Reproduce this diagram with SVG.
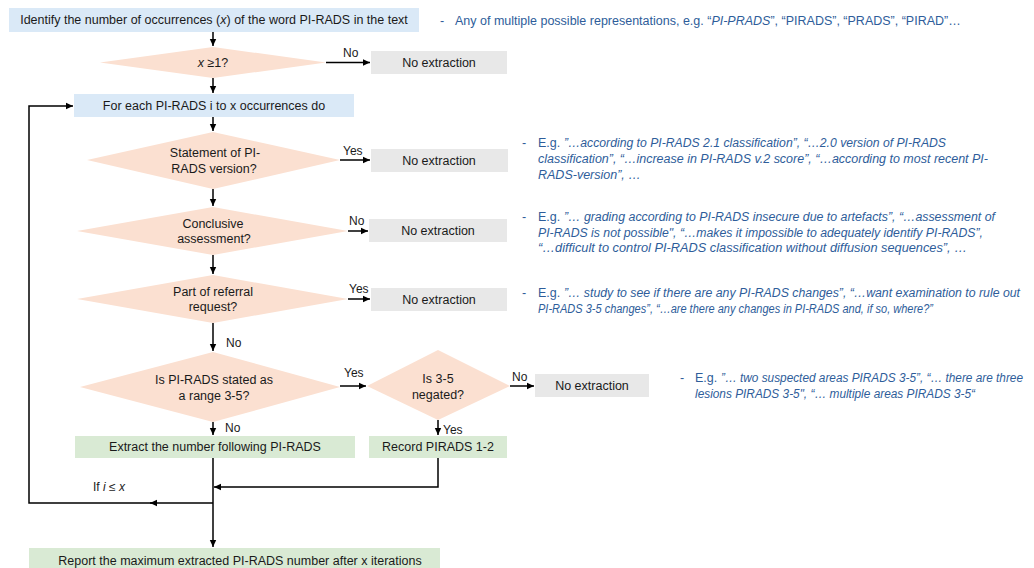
<svg xmlns="http://www.w3.org/2000/svg" width="1034" height="568" viewBox="0 0 1034 568">
<defs>
<marker id="ah" markerUnits="userSpaceOnUse" markerWidth="8" markerHeight="8" refX="7" refY="4" orient="auto">
<path d="M0,0.8 L7,4 L0,7.2 Z" fill="#000"/>
</marker>
<style>
.t{font-family:"Liberation Sans",Arial,sans-serif;font-size:12.5px;fill:#1a1a1a;text-anchor:middle}
.l{font-family:"Liberation Sans",Arial,sans-serif;font-size:12px;fill:#1a1a1a}
.a{font-family:"Liberation Sans",Arial,sans-serif;font-size:12.5px;fill:#2e5d9a}
.s{font-size:12px}
.i{font-style:italic}
.blue{fill:#dae9f7}
.dia{fill:#fbe0d1}
.gray{fill:#e8e8e8}
.green{fill:#d9ead4}
.c{fill:none;stroke:#000;stroke-width:1.5}
</style>
</defs>
<rect width="1034" height="568" fill="#fff"/>

<g id="start"><rect class="blue" x="9" y="8" width="410" height="24"/><text class="t" x="214" y="24">Identify the number of occurrences (<tspan class="i">x</tspan>) of the word PI-RADS in the text</text></g>
<g id="d1"><polygon class="dia" points="100,62.5 213,47 326,62.5 213,78"/><text class="t" x="213" y="67"><tspan class="i">x</tspan> ≥1?</text></g>
<g id="ne1"><rect class="gray" x="371" y="51" width="136" height="23"/><text class="t" x="439" y="67">No extraction</text></g>
<g id="loop"><rect class="blue" x="74" y="94" width="280" height="23"/><text class="t" x="214" y="110">For each PI-RADS i to x occurrences do</text></g>
<g id="d2"><polygon class="dia" points="87,160 213,132 340,160 213,189"/><text class="t" x="215" y="157">Statement of PI-</text><text class="t" x="214" y="173">RADS version?</text></g>
<g id="ne2"><rect class="gray" x="371" y="149" width="137" height="23"/><text class="t" x="439" y="165">No extraction</text></g>
<g id="d3"><polygon class="dia" points="77,231 213,207 348,231 213,255"/><text class="t" x="213" y="228">Conclusive</text><text class="t" x="214" y="243">assessment?</text></g>
<g id="ne3"><rect class="gray" x="369" y="219" width="138" height="23"/><text class="t" x="438" y="235">No extraction</text></g>
<g id="d4"><polygon class="dia" points="77,299 213,275 348,299 213,323"/><text class="t" x="213" y="296">Part of referral</text><text class="t" x="213" y="311">request?</text></g>
<g id="ne4"><rect class="gray" x="371" y="288" width="136" height="23"/><text class="t" x="439" y="304">No extraction</text></g>
<g id="d5"><polygon class="dia" points="80,387 213,352 340,387 213,422"/><text class="t" x="214" y="384">Is PI-RADS stated as</text><text class="t" x="214" y="400">a range 3-5?</text></g>
<g id="d6"><polygon class="dia" points="367,386 438,350 510,386 438,420"/><text class="t" x="438" y="383">Is 3-5</text><text class="t" x="438" y="399">negated?</text></g>
<g id="ne5"><rect class="gray" x="535" y="374" width="114" height="23"/><text class="t" x="592" y="390">No extraction</text></g>
<g id="extract"><rect class="green" x="75" y="436" width="280" height="22"/><text class="t" x="215" y="451">Extract the number following PI-RADS</text></g>
<g id="record"><rect class="green" x="369" y="436" width="138" height="22"/><text class="t" x="438" y="451">Record PIRADS 1-2</text></g>
<g id="report"><rect class="green" x="29" y="548" width="411" height="20"/><text class="t" x="240" y="565">Report the maximum extracted PI-RADS number after x iterations</text></g>

<g id="connectors">
<line class="c" x1="213" y1="32" x2="213" y2="46" marker-end="url(#ah)"/>
<line class="c" x1="213" y1="78" x2="213" y2="93" marker-end="url(#ah)"/>
<line class="c" x1="326" y1="62.5" x2="370" y2="62.5" marker-end="url(#ah)"/>
<line class="c" x1="213" y1="117" x2="213" y2="131" marker-end="url(#ah)"/>
<line class="c" x1="340" y1="160" x2="370" y2="160" marker-end="url(#ah)"/>
<line class="c" x1="213" y1="189" x2="213" y2="206" marker-end="url(#ah)"/>
<line class="c" x1="348" y1="231" x2="368" y2="231" marker-end="url(#ah)"/>
<line class="c" x1="213" y1="255" x2="213" y2="274" marker-end="url(#ah)"/>
<line class="c" x1="348" y1="299" x2="370" y2="299" marker-end="url(#ah)"/>
<line class="c" x1="213" y1="323" x2="213" y2="351" marker-end="url(#ah)"/>
<line class="c" x1="340" y1="386" x2="366" y2="386" marker-end="url(#ah)"/>
<line class="c" x1="510" y1="386" x2="534" y2="386" marker-end="url(#ah)"/>
<line class="c" x1="213" y1="422" x2="213" y2="435" marker-end="url(#ah)"/>
<line class="c" x1="438" y1="420" x2="438" y2="435" marker-end="url(#ah)"/>
<line class="c" x1="213" y1="458" x2="213" y2="547" marker-end="url(#ah)"/>
<polyline class="c" points="438,458 438,487 214,487" marker-end="url(#ah)"/>
<line class="c" x1="213" y1="503" x2="150" y2="503" marker-end="url(#ah)"/>
<polyline class="c" points="152,503 29,503 29,106 73,106" marker-end="url(#ah)"/>
<text class="l" x="343" y="57">No</text>
<text class="l" x="343" y="155">Yes</text>
<text class="l" x="349" y="225">No</text>
<text class="l" x="349" y="293">Yes</text>
<text class="l" x="226" y="347">No</text>
<text class="l" x="344" y="377">Yes</text>
<text class="l" x="512" y="381">No</text>
<text class="l" x="225" y="432">No</text>
<text class="l" x="443" y="434">Yes</text>
<text class="l" x="93" y="491">If <tspan class="i">i</tspan> ≤ <tspan class="i">x</tspan></text>
</g>

<g id="notes">
<text class="a" x="440" y="25">-</text>
<text class="a" x="455" y="25">Any of multiple possible representations, e.g. “<tspan class="i">PI-PRADS</tspan>”, “PIRADS”, “PRADS”, “PIRAD”…</text>
<text class="a" x="522" y="147">-</text>
<text class="a" x="538" y="147">E.g.</text>
<text class="a i" x="564" y="147" textLength="382" lengthAdjust="spacingAndGlyphs">”…according to PI-RADS 2.1 classification”, “…2.0 version of PI-RADS</text>
<text class="a i" x="538" y="163" textLength="450" lengthAdjust="spacingAndGlyphs">classification”, “…increase in PI-RADS v.2 score”, “…according to most recent PI-</text>
<text class="a i" x="538" y="179">RADS-version”, …</text>
<text class="a" x="522" y="221">-</text>
<text class="a" x="538" y="221">E.g.</text>
<text class="a i" x="564" y="221" textLength="431" lengthAdjust="spacingAndGlyphs">”… grading according to PI-RADS insecure due to artefacts”, “…assessment of</text>
<text class="a i" x="538" y="237" textLength="445" lengthAdjust="spacingAndGlyphs">PI-RADS is not possible", “…makes it impossible to adequately identify PI-RADS”,</text>
<text class="a i" x="538" y="252" textLength="429" lengthAdjust="spacingAndGlyphs">“…difficult to control PI-RADS classification without diffusion sequences”, …</text>
<text class="a" x="522" y="297">-</text>
<text class="a" x="538" y="297">E.g.</text>
<text class="a i" x="564" y="297" textLength="456" lengthAdjust="spacingAndGlyphs">”… study to see if there are any PI-RADS changes”,  “…want examination to rule out</text>
<text class="a i" x="538" y="313" textLength="395" lengthAdjust="spacingAndGlyphs">PI-RADS 3-5 changes”, “…are there any changes in PI-RADS and, if so, where?”</text>
<text class="a" x="680" y="382">-</text>
<text class="a" x="695" y="382">E.g.</text>
<text class="a i s" x="721" y="382" textLength="302" lengthAdjust="spacingAndGlyphs">”… two suspected areas PIRADS 3-5”,  “… there are three</text>
<text class="a i s" x="695" y="398" textLength="280" lengthAdjust="spacingAndGlyphs">lesions PIRADS 3-5", “… multiple areas PIRADS 3-5“</text>
</g>
</svg>
